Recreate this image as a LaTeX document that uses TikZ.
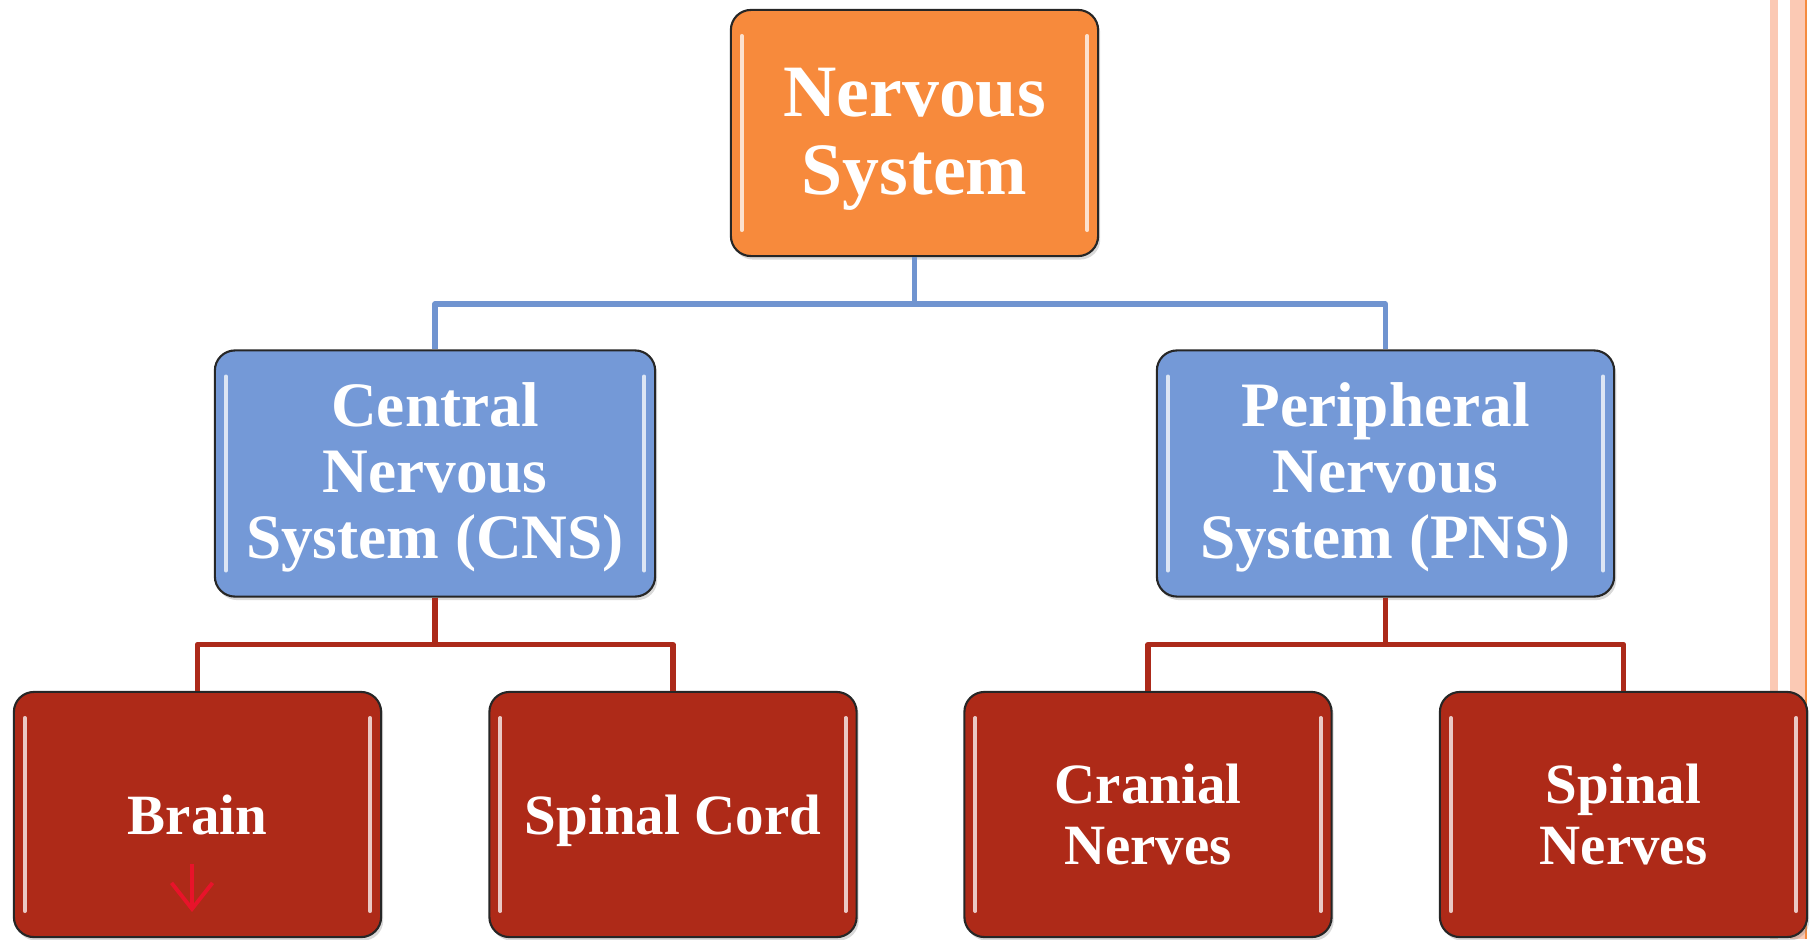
\documentclass[tikz,border=0pt]{standalone}
\usepackage{fontspec}
\setmainfont{Liberation Serif}
\usetikzlibrary{arrows.meta,positioning,shadows}

\definecolor{nsorange}{RGB}{247,138,60}
\definecolor{midblue}{RGB}{116,153,215}
\definecolor{leafred}{RGB}{174,42,24}
\definecolor{busblue}{RGB}{112,148,208}
\definecolor{busred}{RGB}{172,42,26}
\definecolor{stripe}{RGB}{251,201,180}
\definecolor{stripeedge}{RGB}{245,139,63}
\definecolor{cuered}{RGB}{232,19,42}

\begin{document}
\begin{tikzpicture}[
  x=0.01cm, y=0.01cm,
  box/.style={draw=black!85, line width=0.6pt, rounded corners=5.7pt,
              text=white, align=center, inner sep=0pt,
              drop shadow={opacity=.3, shadow xshift=.6pt, shadow yshift=-1pt},
              path picture={
                \draw[white, opacity=.75, line width=1.1pt, line cap=round]
                  ([shift={(11,-26)}]path picture bounding box.north west) --
                  ([shift={(11,26)}]path picture bounding box.south west)
                  ([shift={(-11,-26)}]path picture bounding box.north east) --
                  ([shift={(-11,26)}]path picture bounding box.south east);
              }},
  top/.style={box, fill=nsorange, minimum width=3.67cm, minimum height=2.46cm,
              font=\bfseries\fontsize{21}{22.2}\selectfont, text depth=1.1pt},
  mid/.style={box, fill=midblue, minimum height=2.46cm,
              font=\bfseries\fontsize{18}{18.8}\selectfont, text depth=1.6pt},
  leaf/.style={box, fill=leafred, minimum width=3.67cm, minimum height=2.45cm,
               font=\bfseries\fontsize{16.2}{17.4}\selectfont},
  bluebus/.style={draw=busblue, line width=1.5pt, line join=round},
  redbus/.style={draw=busred, line width=1.6pt, line join=round},
  cue/.style={draw=cuered, line width=1.1pt,
              -{Straight Barb[length=2.6mm, width=4.1mm]}},
]
  \useasboundingbox (0,0) rectangle (1812,-939);

  % slide edge
  \fill[stripe] (1770,0) rectangle (1778,-939);
  \fill[stripe] (1790,0) rectangle (1805,-939);
  \fill[stripeedge] (1805,0) rectangle (1807,-939);

  \node[top] (ns) at (914.5,-133) {Nervous\\System};

  \node[mid, minimum width=4.40cm] (cns) at (435,-473.5)
    {Central\\Nervous\\System (CNS)};
  \node[mid, minimum width=4.57cm] (pns) at (1385.5,-473.5)
    {Peripheral\\Nervous\\System (PNS)};

  \node[leaf] (brain) at (197.5,-814.5)  {Brain};
  \node[leaf, text depth=0pt] (cord) at (673,-814.5) {Spinal Cord};
  \node[leaf] (cran)  at (1148,-814.5)   {Cranial\\Nerves};
  \node[leaf] (spnv)  at (1623.5,-814.5) {Spinal\\Nerves};

  \draw[bluebus] (ns.south) -- ++(0,-47) -| (cns.north);
  \draw[bluebus] (ns.south) -- ++(0,-47) -| (pns.north);

  \draw[redbus] (cns.south) -- ++(0,-47) -| (brain.north);
  \draw[redbus] (cns.south) -- ++(0,-47) -| (cord.north);
  \draw[redbus] (pns.south) -- ++(0,-47) -| (cran.north);
  \draw[redbus] (pns.south) -- ++(0,-47) -| (spnv.north);

  \coordinate (cuetop) at (192,-864);
  \coordinate (cuetip) at (192,-912);
  \draw[cue] (cuetop) -- (cuetip);
\end{tikzpicture}
\end{document}
